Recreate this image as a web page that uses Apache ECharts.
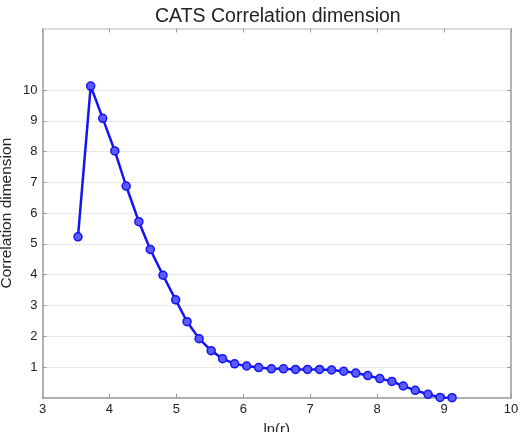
<!DOCTYPE html>
<html>
<head>
<meta charset="utf-8">
<script src="https://cdn.jsdelivr.net/npm/echarts@6/dist/echarts.min.js"></script>
<style>
  html, body { margin: 0; padding: 0; background: #fff; }
  #chart { width: 524px; height: 432px; }
</style>
</head>
<body>
<div id="chart"></div>
<script>
// ln(r) values
const lnR = [3.53, 3.72, 3.90, 4.08, 4.25, 4.44, 4.61, 4.80, 4.99, 5.16, 5.34, 5.52,
  5.69, 5.87, 6.05, 6.23, 6.42, 6.60, 6.78, 6.96, 7.14, 7.32, 7.50, 7.68,
  7.86, 8.04, 8.22, 8.39, 8.57, 8.76, 8.94, 9.12];
// correlation dimension
const corrDim = [5.23, 10.13, 9.08, 8.02, 6.88, 5.72, 4.82, 3.98, 3.18, 2.47, 1.92, 1.53,
  1.27, 1.10, 1.03, 0.98, 0.94, 0.94, 0.92, 0.92, 0.92, 0.90, 0.86, 0.80,
  0.72, 0.62, 0.53, 0.38, 0.24, 0.11, 0.01, 0.0];
const yTicks = [1, 2, 3, 4, 5, 6, 7, 8, 9, 10];

const chart = echarts.init(document.getElementById('chart'));

const font = 'Liberation Sans, Arial, sans-serif';
const axisGrey = '#9a9a9a';

const data = lnR.map((x, i) => [x, corrDim[i]]);

// plot box: y 0..12 over 397.7..28.5 px, so y=10 sits at ~90 px
const option = {
  animation: false,
  title: {
    text: 'CATS Correlation dimension',
    left: 150,
    top: 2,
    textStyle: { fontFamily: font, fontSize: 19.5, fontWeight: 'normal', color: '#222' }
  },
  grid: [
    { left: 42.5, right: 13, top: 28.5, bottom: 34.3, outerBoundsMode: 'none', containLabel: false, z: 2 },
    // second grid only for the dashed lines at 1..10
    { left: 42.5, right: 13, top: 90.2, bottom: 34.3, outerBoundsMode: 'none', containLabel: false, z: 0 }
  ],
  xAxis: [
    {
      type: 'value', min: 3, max: 10, interval: 1, gridIndex: 0,
      name: 'ln(r)', nameLocation: 'middle', nameGap: 25, nameMoveOverlap: false,
      nameTextStyle: { fontFamily: font, fontSize: 15, color: '#222' },
      axisLine: { onZero: false, lineStyle: { color: axisGrey, width: 1.5 } },
      axisTick: { inside: true, length: 4, lineStyle: { color: axisGrey } },
      axisLabel: { fontFamily: font, fontSize: 13, color: '#222', margin: 5 },
      splitLine: { show: false }
    },
    {
      type: 'value', min: 3, max: 10, interval: 1, position: 'top', gridIndex: 0,
      axisLine: { onZero: false, lineStyle: { color: '#d0d0d0', width: 1.5 } },
      axisTick: { inside: true, length: 4, lineStyle: { color: axisGrey } },
      axisLabel: { show: false },
      splitLine: { show: false }
    },
    {
      type: 'value', min: 3, max: 10, gridIndex: 1, show: false
    }
  ],
  yAxis: [
    {
      type: 'value', min: 0, max: 12, interval: 1, gridIndex: 0,
      name: 'Correlation dimension', nameLocation: 'middle', nameGap: 28, nameMoveOverlap: false,
      nameTextStyle: { fontFamily: font, fontSize: 15.5, color: '#222' },
      axisLine: { show: true, onZero: false, lineStyle: { color: axisGrey, width: 1.5 } },
      axisTick: { show: true, inside: true, length: 4, customValues: yTicks, lineStyle: { color: axisGrey } },
      axisLabel: { fontFamily: font, fontSize: 13, color: '#222', margin: 5, customValues: yTicks },
      splitLine: { show: false }
    },
    {
      type: 'value', min: 0, max: 12, interval: 1, position: 'right', gridIndex: 0,
      axisLine: { show: true, onZero: false, lineStyle: { color: axisGrey, width: 1.5 } },
      axisTick: { show: true, inside: true, length: 4, customValues: yTicks, lineStyle: { color: axisGrey } },
      axisLabel: { show: false },
      splitLine: { show: false }
    },
    {
      type: 'value', min: 0, max: 10, interval: 1, gridIndex: 1,
      axisLine: { show: false }, axisTick: { show: false }, axisLabel: { show: false },
      splitLine: { show: true, lineStyle: { color: '#d4d4d4', type: [2, 2], width: 1 } }
    }
  ],
  series: [
    {
      type: 'line',
      data: data,
      symbol: 'circle',
      symbolSize: 8,
      lineStyle: { color: '#1414f5', width: 2.5 },
      itemStyle: { color: '#5a5aff', borderColor: '#1414f5', borderWidth: 1.5 },
      z: 3
    }
  ]
};

chart.setOption(option);
</script>
</body>
</html>
